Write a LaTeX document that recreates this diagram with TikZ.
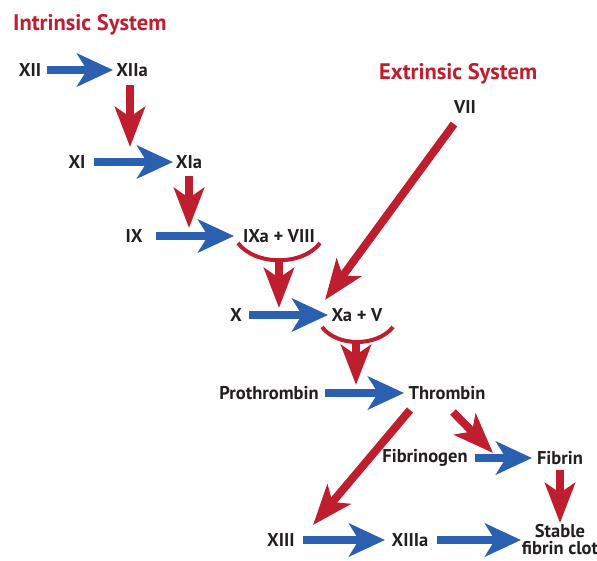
\documentclass[tikz,border=0pt]{standalone}
\usepackage{fontspec}
\setmainfont{PT Sans}
\usetikzlibrary{arrows.meta}
\definecolor{cred}{HTML}{BE1E2D}
\definecolor{cblue}{HTML}{2B60B0}
\definecolor{ctext}{HTML}{231F20}
\begin{document}
\begin{tikzpicture}[x=1pt,y=-1pt,
 lbl/.style={font=\bfseries\fontsize{18.5}{17}\selectfont, text=ctext, inner sep=0pt, anchor=center},
 ttl/.style={font=\bfseries\fontsize{22.5}{24}\selectfont, text=cred, inner sep=0pt, anchor=west},
 barrow/.style={draw=cblue, line width=8pt, -{Stealth[length=36pt,width=33pt,inset=10pt]}},
 rarrow/.style={draw=cred, line width=8pt, -{Stealth[length=40pt,width=30pt,inset=10pt]}},
 cup/.style={draw=cred, line width=4pt}]
\useasboundingbox (0,0) rectangle (597,560);
% titles
\node[ttl] (tin) at (13,25) {Intrinsic System};
\node[ttl] (tex) at (379,74) {Extrinsic System};
% labels
\node[lbl] (XII) at (30,70) {XII};
\node[lbl] (XIIa) at (132,70) {XIIa};
\node[lbl] (XI) at (77,162) {XI};
\node[lbl] (XIa) at (189,162) {XIa};
\node[lbl] (IX) at (134,236) {IX};
\node[lbl] (IXa) at (279,236) {IXa + VIII};
\node[lbl] (VII) at (465,107) {VII};
\node[lbl] (X) at (236,315) {X};
\node[lbl] (Xa) at (357,315) {Xa + V};
\node[lbl] (Pro) at (269,393) {Prothrombin};
\node[lbl] (Thr) at (447,393) {Thrombin};
\node[lbl] (Fgen) at (425,458) {Fibrinogen};
\node[lbl] (Fib) at (560,458) {Fibrin};
\node[lbl] (XIII) at (281,540) {XIII};
\node[lbl] (XIIIa) at (410,540) {XIIIa};
\node[lbl, align=center] (Stable) at (560,540) {Stable\\fibrin clot};
% blue arrows
\draw[barrow, shorten <=17pt, shorten >=19pt] (XII.center) -- (XIIa.center);
\draw[barrow, shorten <=17pt, shorten >=16pt] (XI.center) -- (XIa.center);
\draw[barrow, shorten <=22pt, shorten >=45pt] (IX.center) -- (IXa.center);
\draw[barrow, shorten <=13pt, shorten >=29pt] (X.center) -- (Xa.center);
\draw[barrow, shorten <=56pt, shorten >=43pt] (Pro.center) -- (Thr.center);
\draw[barrow, shorten <=50pt, shorten >=28pt] (Fgen.center) -- (Fib.center);
\draw[barrow, shorten <=22pt, shorten >=25pt] (XIII.center) -- (XIIIa.center);
\draw[barrow, shorten <=27pt, shorten >=39pt] (XIIIa.center) -- (Stable.center |- XIIIa.center);
% cups
\draw[cup] ([shift={(-41,7)}]IXa.center) .. controls ([shift={(-24,30)}]IXa.center) and ([shift={(24,30)}]IXa.center) .. ([shift={(41,7)}]IXa.center);
\draw[cup] ([shift={(-35,12)}]Xa.center) .. controls ([shift={(-20,32)}]Xa.center) and ([shift={(20,32)}]Xa.center) .. ([shift={(36,12)}]Xa.center);
% red arrows
\draw[rarrow, shorten <=15pt, shorten >=15pt] ([xshift=-2pt]XIIa.center) -- ([xshift=-2pt]XIIa.center |- XIa.center);
\draw[rarrow, shorten <=14pt, shorten >=8pt] (XIa.center) -- (XIa.center |- IXa.center);
\draw[rarrow, shorten <=24pt, shorten >=7pt] (IXa.center) -- (IXa.center |- X.center);
\draw[rarrow, shorten <=26pt, shorten >=8pt] ([xshift=-1pt]Xa.center) -- ([xshift=-1pt]Xa.center |- Thr.center);
\draw[rarrow] ([shift={(-11,17)}]VII.center) -- ([shift={(-32,-15)}]Xa.center);
\draw[rarrow] ([shift={(-37,17)}]Thr.center) -- ([shift={(32,-15)}]XIII.center);
\draw[rarrow] ([shift={(6,19)}]Thr.center) -- ([shift={(-67,-5)}]Fib.center);
\draw[rarrow, shorten <=12pt, shorten >=17pt] (Fib.center) -- (Fib.center |- Stable.center);
\end{tikzpicture}
\end{document}
